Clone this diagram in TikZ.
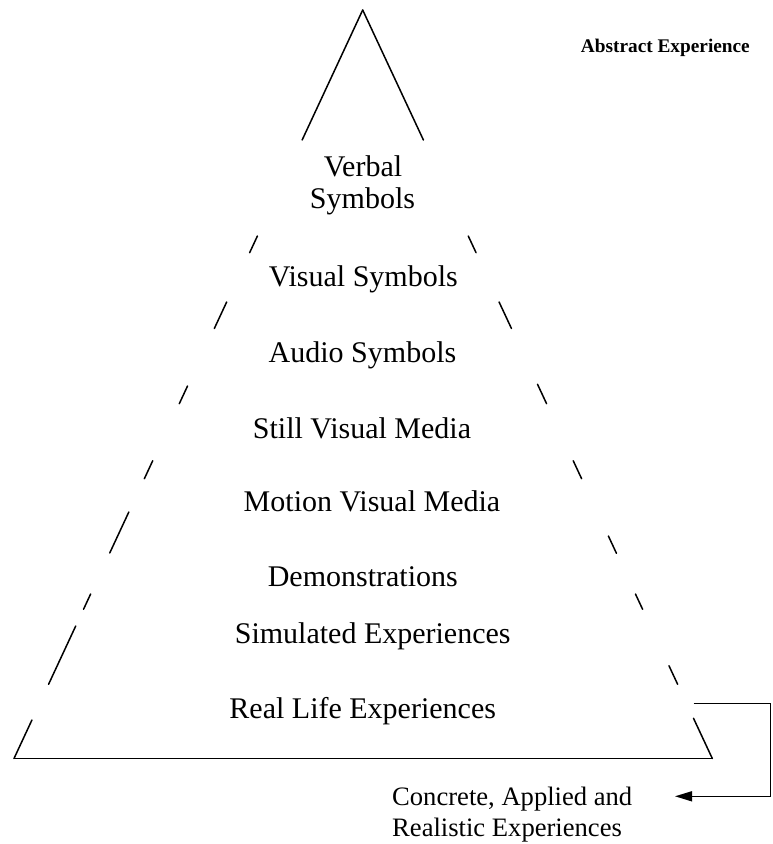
\documentclass[tikz,border=0pt]{standalone}
\usepackage{fontspec}
\setmainfont{Liberation Serif}
\usetikzlibrary{calc,arrows.meta}

\tikzset{
  side/.style={line width=1.5pt, line cap=round},
  level/.style={anchor=base, inner sep=0pt, font=\fontsize{30}{32.3}\selectfont},
  note/.style={anchor=base west, inner sep=0pt, align=left, font=\fontsize{26.6}{31.7}\selectfont},
  heading/.style={anchor=base east, inner sep=0pt, font=\fontsize{19.3}{23}\selectfont\bfseries},
  bracket/.style={line width=1.5pt, -{Triangle[length=17pt,width=10pt]}}
}

\begin{document}
\begin{tikzpicture}[x=1pt,y=-1pt]
  \useasboundingbox (0,0) rectangle (772,844);

  % corners of the cone
  \coordinate (apex) at (362.7,10);
  \coordinate (bl) at (14,758.5);
  \coordinate (br) at (712.3,758.5);

  % left side: solid tip, then broken segments (given by their y range)
  \foreach \ya/\yb in {10/140, 236/252.7, 302/328.5, 386/403.7, 460.7/478.7,
                       512/553, 594/609.3, 626/684.3, 720/758.5}
    \draw[side] ($(apex)!{(\ya-10)/748.5}!(bl)$) -- ($(apex)!{(\yb-10)/748.5}!(bl)$);

  % right side
  \foreach \ya/\yb in {10/140, 236/252.7, 302/328.5, 384.3/403.7, 460.7/478.7,
                       536/553.3, 594/609.3, 665.7/684.3, 718.3/758.5}
    \draw[side] ($(apex)!{(\ya-10)/748.5}!(br)$) -- ($(apex)!{(\yb-10)/748.5}!(br)$);

  % base
  \draw[side] (bl) -- (br);

  % levels of the cone
  \node[level] (verbal) at (363,176) {Verbal};
  \node[level] (verbal2) at (362.5,208.3) {Symbols};
  \node[level] (visual) at (363.3,286.7) {Visual Symbols};
  \node[level] (audio) at (362.5,362.7) {Audio Symbols};
  \node[level] (still) at (362,438.3) {Still Visual Media};
  \node[level] (motion) at (372,511.7) {Motion Visual Media};
  \node[level] (demo) at (362.8,586.7) {Demonstrations};
  \node[level] (sim) at (372.7,643.3) {Simulated Experiences};
  \node[level] (real) at (362.7,718.3) {Real Life Experiences};

  % side labels (base of a two-line note is its last line)
  \node[heading] (abstract) at (750,52) {Abstract Experience};
  \node[note] (concrete) at (392,836.7) {Concrete, Applied and\\Realistic Experiences};

  % bracket from the base level down to the concrete label
  \coordinate (from) at (693.5,703.3);
  \coordinate (tip) at (675,796.3);
  \draw[bracket] (from) -- (770.7,703.3) |- (tip);
\end{tikzpicture}
\end{document}
